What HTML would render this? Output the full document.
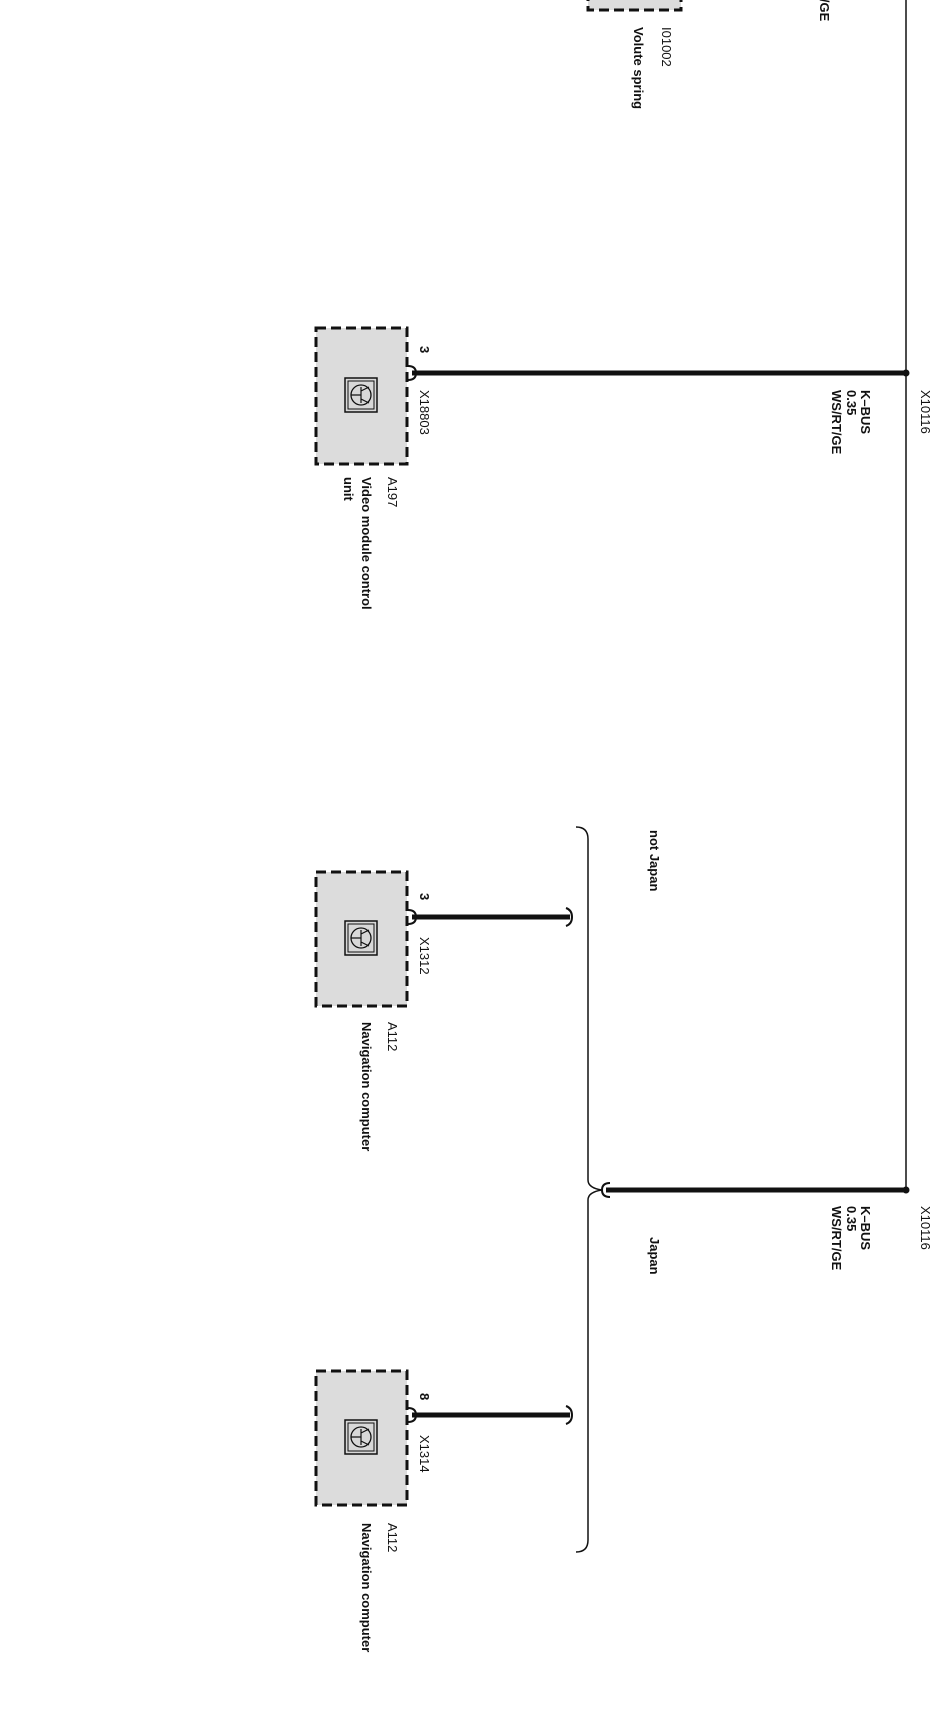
<!DOCTYPE html>
<html><head><meta charset="utf-8"><style>
html,body{margin:0;padding:0;background:#fff}
svg text{font-family:"Liberation Sans",sans-serif;font-size:13px;fill:#111}
.b{font-weight:bold}
</style></head><body>
<svg width="948" height="1704" viewBox="0 0 948 1704" xmlns="http://www.w3.org/2000/svg">
<defs>
<g id="icon">
<rect x="0" y="0" width="32" height="34" fill="#d8d8d8" stroke="#111" stroke-width="1.5"/>
<rect x="3" y="3" width="26" height="28" fill="none" stroke="#111" stroke-width="1"/>
<circle cx="16" cy="17" r="10" fill="none" stroke="#111" stroke-width="1.3"/>
<path d="M6 17 H16 M16 9 V25 M16 13 L24 9 M16 21 L24 25" stroke="#111" stroke-width="1.2" fill="none"/>
</g>
</defs>
<!-- Volute spring box (top) -->
<rect x="588" y="-20" width="93" height="30" fill="#dcdcdc" stroke="#111" stroke-width="3" stroke-dasharray="10,5"/>
<text transform="translate(662,27) rotate(90)">I01002</text>
<text class="b" transform="translate(634,27) rotate(90)">Volute spring</text>
<text class="b" transform="translate(820,-43) rotate(90)">WS/RT/GE</text>

<!-- main vertical line -->
<line x1="906" y1="0" x2="906" y2="1190" stroke="#111" stroke-width="1.5"/>
<circle cx="906" cy="373" r="3.5" fill="#111"/>
<circle cx="906" cy="1190" r="3.5" fill="#111"/>

<!-- Video module -->
<line x1="412" y1="373" x2="906" y2="373" stroke="#111" stroke-width="5"/>
<path d="M408 366 Q416 366 416 373 Q416 380 408 380" fill="none" stroke="#111" stroke-width="2"/>
<rect x="316" y="328" width="91" height="136" fill="#dcdcdc" stroke="#111" stroke-width="3" stroke-dasharray="10,5"/>
<use href="#icon" x="345" y="378"/>
<text class="b" transform="translate(420,346) rotate(90)">3</text>
<text transform="translate(420,390) rotate(90)">X18803</text>
<text transform="translate(921,390) rotate(90)">X10116</text>
<text class="b" transform="translate(861,390) rotate(90)">K–BUS</text>
<text class="b" transform="translate(847,390) rotate(90)">0.35</text>
<text class="b" transform="translate(832,390) rotate(90)">WS/RT/GE</text>
<text transform="translate(388,477) rotate(90)">A197</text>
<text class="b" transform="translate(362,477) rotate(90)">Video module control</text>
<text class="b" transform="translate(344,477) rotate(90)">unit</text>

<!-- brace -->
<path d="M576 827 Q588 827 588 839 L588 1180 Q588 1188 602 1190 Q588 1192 588 1200 L588 1540 Q588 1552 576 1552" fill="none" stroke="#111" stroke-width="1.5"/>
<text class="b" transform="translate(650,830) rotate(90)">not Japan</text>
<text class="b" transform="translate(650,1237) rotate(90)">Japan</text>

<!-- Japan wire -->
<line x1="606" y1="1190" x2="904" y2="1190" stroke="#111" stroke-width="5"/>
<path d="M610 1183 Q602 1183 602 1190 Q602 1197 610 1197" fill="none" stroke="#111" stroke-width="2"/>
<text transform="translate(921,1206) rotate(90)">X10116</text>
<text class="b" transform="translate(861,1206) rotate(90)">K–BUS</text>
<text class="b" transform="translate(847,1206) rotate(90)">0.35</text>
<text class="b" transform="translate(832,1206) rotate(90)">WS/RT/GE</text>

<!-- Nav 1 -->
<line x1="412" y1="917" x2="570" y2="917" stroke="#111" stroke-width="5"/>
<path d="M408 910 Q416 910 416 917 Q416 924 408 924" fill="none" stroke="#111" stroke-width="2"/>
<path d="M566 908 Q572 910 572 917 Q572 924 566 926" fill="none" stroke="#111" stroke-width="2"/>
<rect x="316" y="872" width="91" height="134" fill="#dcdcdc" stroke="#111" stroke-width="3" stroke-dasharray="10,5"/>
<use href="#icon" x="345" y="921"/>
<text class="b" transform="translate(420,893) rotate(90)">3</text>
<text transform="translate(420,937) rotate(90)">X1312</text>
<text transform="translate(388,1022) rotate(90)">A112</text>
<text class="b" transform="translate(362,1022) rotate(90)">Navigation computer</text>

<!-- Nav 2 -->
<line x1="412" y1="1415" x2="570" y2="1415" stroke="#111" stroke-width="5"/>
<path d="M408 1408 Q416 1408 416 1415 Q416 1422 408 1422" fill="none" stroke="#111" stroke-width="2"/>
<path d="M566 1406 Q572 1408 572 1415 Q572 1422 566 1424" fill="none" stroke="#111" stroke-width="2"/>
<rect x="316" y="1371" width="91" height="134" fill="#dcdcdc" stroke="#111" stroke-width="3" stroke-dasharray="10,5"/>
<use href="#icon" x="345" y="1420"/>
<text class="b" transform="translate(420,1393) rotate(90)">8</text>
<text transform="translate(420,1435) rotate(90)">X1314</text>
<text transform="translate(388,1523) rotate(90)">A112</text>
<text class="b" transform="translate(362,1523) rotate(90)">Navigation computer</text>
</svg>
</body></html>
